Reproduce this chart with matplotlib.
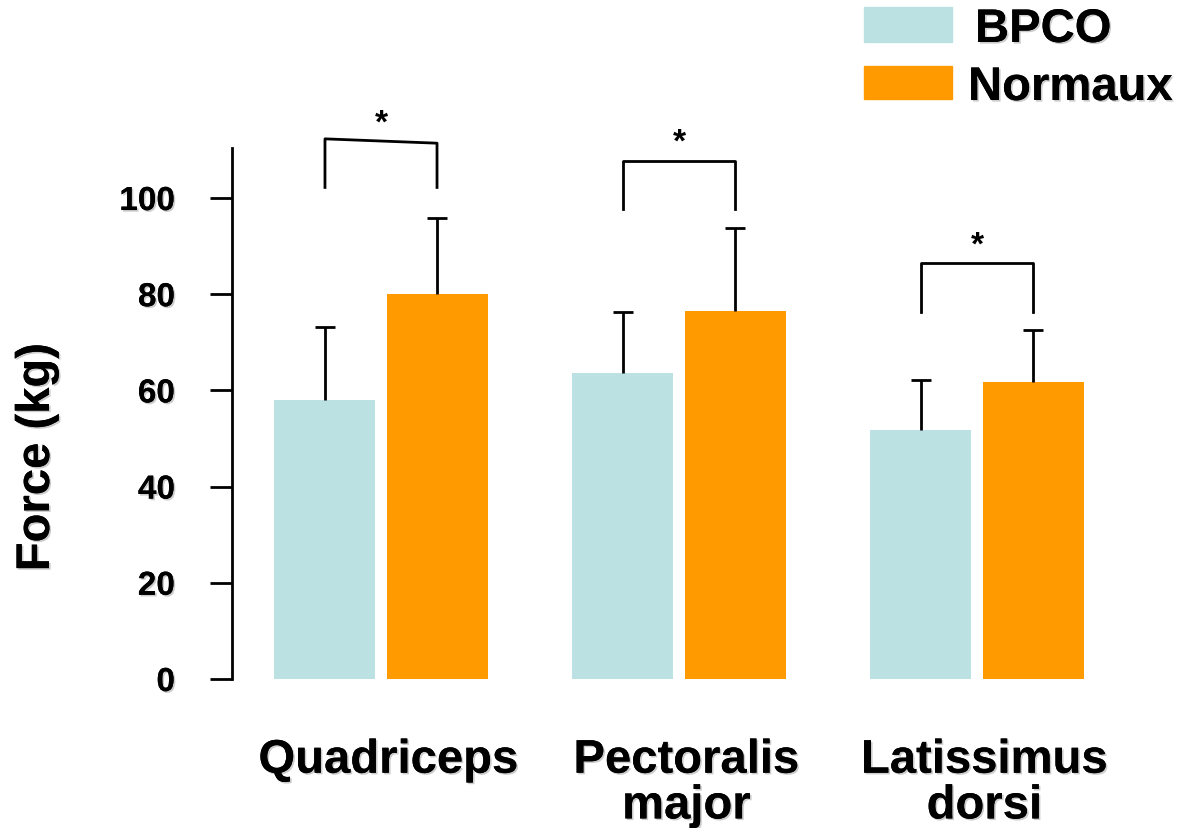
import numpy as np
from matplotlib import pyplot as plt
from matplotlib import patheffects as pe
from matplotlib.patches import Rectangle

muscles = ['Quadriceps', 'Pectoralis\nmajor', 'Latissimus\ndorsi']
bpco = [58.0, 63.6, 51.8]
bpco_sd = [15.2, 12.7, 10.4]
normaux = [80.0, 76.5, 61.7]
normaux_sd = [15.8, 17.3, 10.9]
# significance brackets: bottom of legs, top (left, right), star position
brk_low = [102.2, 97.7, 76.3]
brk_top_l = [112.3, 107.7, 86.5]
brk_top_r = [111.4, 107.7, 86.5]
star_y = [115.6, 111.6, 90.2]
yticks = [0, 20, 40, 60, 80, 100]

c_bpco = '#bce1e3'
c_norm = '#ff9a00'
shadow = [pe.withSimplePatchShadow(offset=(1.2, -1.2), shadow_rgbFace='grey', alpha=0.4), pe.Normal()]

plt.rcParams['font.family'] = ['Liberation Sans', 'DejaVu Sans']
plt.rcParams['font.weight'] = 'bold'

fig = plt.figure(figsize=(11.82, 8.29), dpi=100)
W, H = 1182, 829
ax = fig.add_axes([232 / W, 1 - 680 / H, (1140 - 232) / W, (680 - 149) / H])

x = np.arange(len(muscles))
off = 0.188
bw = 0.339
ax.bar(x - off, bpco, bw, color=c_bpco, zorder=2)
ax.bar(x + off, normaux, bw, color=c_norm, zorder=2)
for xs, vals, sd in [(x - off, bpco, bpco_sd), (x + off, normaux, normaux_sd)]:
    eb = ax.errorbar(xs, vals, yerr=[np.zeros(3), sd], fmt='none', ecolor='black',
                     elinewidth=2.0, capsize=7.5, capthick=2.0, zorder=3)
    # hide the cap sitting on the bar top (zero lower error)
    for cap in eb[1]:
        if np.allclose(cap.get_ydata(), vals):
            cap.set_visible(False)

for i in range(len(muscles)):
    xl, xr = x[i] - off, x[i] + off
    ax.plot([xl, xl, xr, xr], [brk_low[i], brk_top_l[i], brk_top_r[i], brk_low[i]],
            color='black', lw=2.0, clip_on=False)
    ax.text(x[i], star_y[i], '*', ha='center', va='center', fontsize=24, clip_on=False)

ax.set_xlim(-0.5, (1140 - 381) / 298)
ax.set_ylim(0, 110.4)
ax.set_yticks(yticks)
ax.set_yticklabels([str(v) for v in yticks], fontsize=24, fontweight='bold')
for t in ax.get_yticklabels():
    t.set_path_effects(shadow)
ax.tick_params(axis='y', length=16, width=2.0, pad=25)
ax.set_xticks(x + 0.025)
ax.set_xticklabels(muscles, fontsize=34, fontweight='bold', linespacing=1.05, va='top')
for t in ax.get_xticklabels():
    t.set_path_effects(shadow)
ax.tick_params(axis='x', length=0, pad=43)
ax.spines['left'].set_linewidth(2.0)
for s in ['top', 'right', 'bottom']:
    ax.spines[s].set_visible(False)

fig.text(37 / W, 1 - 458 / H, 'Force (kg)', rotation=90, ha='center', va='center',
         fontsize=34, fontweight='bold', path_effects=shadow)

# legend
fig.patches.append(Rectangle((864 / W, 1 - 43 / H), 88 / W, 35 / H, color=c_bpco, transform=fig.transFigure))
fig.patches.append(Rectangle((864 / W, 1 - 100 / H), 88 / W, 33 / H, color=c_norm, transform=fig.transFigure))
fig.text(975 / W, 1 - 31 / H, 'BPCO', ha='left', va='center', fontsize=34, fontweight='bold', path_effects=shadow)
fig.text(968 / W, 1 - 89 / H, 'Normaux', ha='left', va='center', fontsize=34, fontweight='bold', path_effects=shadow)

plt.savefig('out.png', dpi=100)
